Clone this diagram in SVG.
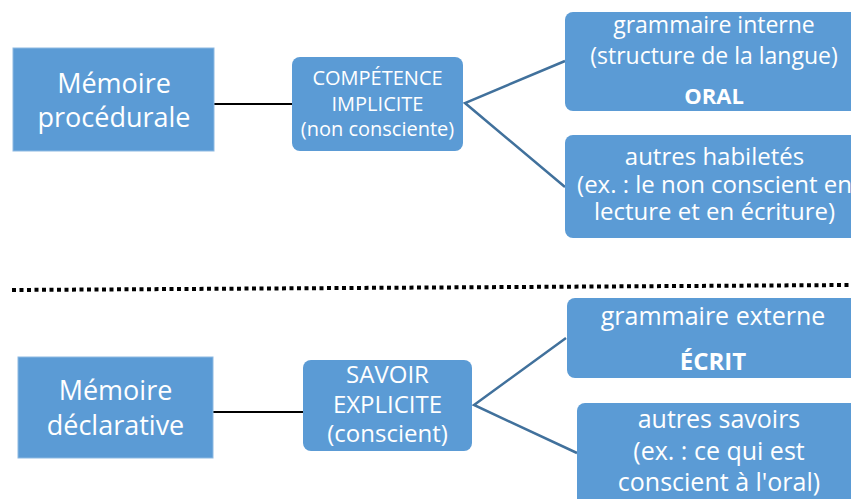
<svg xmlns="http://www.w3.org/2000/svg" width="851" height="499" viewBox="0 0 851 499">
<style>
.box{fill:#5B9BD5}
.sq{fill:#5B9BD5;stroke:#8DB9E2;stroke-width:1}
text{font-family:"Open Sans","Noto Sans","Liberation Sans",sans-serif;fill:#fff;text-anchor:middle}
.b{font-weight:bold}
.blk{stroke:#000;stroke-width:2;fill:none}
.blu{stroke:#41719C;stroke-width:2.5;fill:none}
</style>
<rect width="851" height="499" fill="#fff"/>
<g id="connectors">
<line class="blk" x1="214" y1="104" x2="292" y2="104"/>
<line class="blk" x1="213" y1="412" x2="303" y2="412"/>
<polyline class="blu" points="565,61 465,103 565,187"/>
<polyline class="blu" points="566,338 474,405 577,453"/>
</g>
<line id="separator" x1="12" y1="290" x2="849" y2="285" stroke="#000" stroke-width="4" stroke-dasharray="4 3.5"/>
<g id="memoire-procedurale">
<rect class="sq" x="13" y="48" width="201" height="103"/>
<text x="114" y="93" font-size="27">Mémoire</text>
<text x="114" y="127" font-size="27">procédurale</text>
</g>
<g id="competence-implicite">
<rect class="box" x="292" y="57" width="171" height="94" rx="8"/>
<text x="377.5" y="85" font-size="20">COMPÉTENCE</text>
<text x="377.5" y="111" font-size="20">IMPLICITE</text>
<text x="377.5" y="136" font-size="20">(non consciente)</text>
</g>
<g id="grammaire-interne">
<rect class="box" x="565" y="12" width="300" height="99" rx="8"/>
<text x="714" y="33" font-size="23">grammaire interne</text>
<text x="714" y="64" font-size="23">(structure de la langue)</text>
<text class="b" x="714" y="104" font-size="22">ORAL</text>
</g>
<g id="autres-habiletes">
<rect class="box" x="565" y="135" width="300" height="103" rx="8"/>
<text x="714.5" y="165" font-size="24">autres habiletés</text>
<text x="714.5" y="193" font-size="24">(ex. : le non conscient en</text>
<text x="714.5" y="220" font-size="24">lecture et en écriture)</text>
</g>
<g id="memoire-declarative">
<rect class="sq" x="18" y="357" width="195" height="101"/>
<text x="115.5" y="400" font-size="27">Mémoire</text>
<text x="115.5" y="435" font-size="27">déclarative</text>
</g>
<g id="savoir-explicite">
<rect class="box" x="303" y="360" width="169" height="91" rx="8"/>
<text x="387.5" y="383" font-size="24">SAVOIR</text>
<text x="387.5" y="413" font-size="24">EXPLICITE</text>
<text x="387.5" y="442" font-size="24">(conscient)</text>
</g>
<g id="grammaire-externe">
<rect class="box" x="567" y="298" width="300" height="80" rx="8"/>
<text x="713" y="325" font-size="25">grammaire externe</text>
<text class="b" x="713" y="370" font-size="24">ÉCRIT</text>
</g>
<g id="autres-savoirs">
<rect class="box" x="577" y="403" width="300" height="120" rx="8"/>
<text x="719" y="428" font-size="25">autres savoirs</text>
<text x="719" y="460" font-size="25">(ex. : ce qui est</text>
<text x="719" y="491" font-size="25">conscient à l'oral)</text>
</g>
</svg>
